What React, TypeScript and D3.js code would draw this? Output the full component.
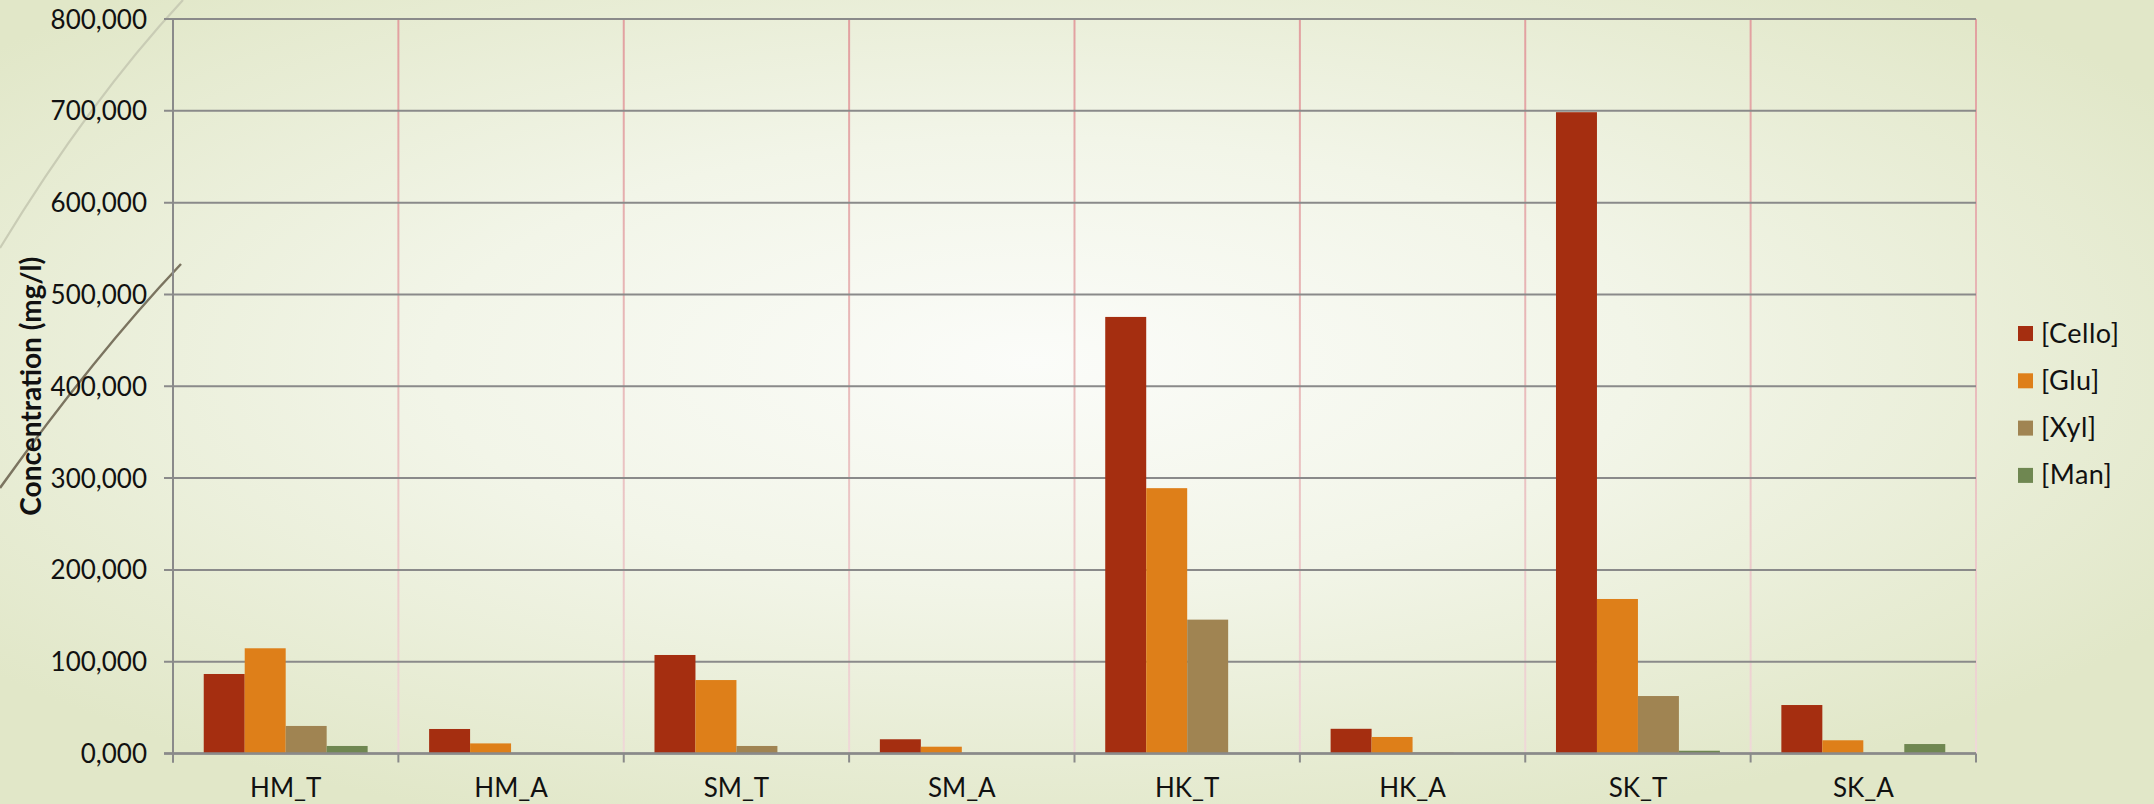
import { useEffect, useRef } from 'react'
import * as d3 from 'd3'

const categories = ['HM_T', 'HM_A', 'SM_T', 'SM_A', 'HK_T', 'HK_A', 'SK_T', 'SK_A']
const seriesNames = ['[Cello]', '[Glu]', '[Xyl]', '[Man]']
const cello = [86600, 26700, 107300, 15500, 475500, 26900, 698500, 52800]
const glu = [114600, 11000, 80000, 7400, 289000, 18000, 168300, 14400]
const xyl = [30000, 0, 8200, 0, 145800, 1000, 62600, 0]
const man = [8200, 0, 0, 0, 0, 0, 3000, 10300]
const yTicks = [0, 100000, 200000, 300000, 400000, 500000, 600000, 700000, 800000]
const yTickLabels = ['0,000', '100,000', '200,000', '300,000', '400,000', '500,000', '600,000', '700,000', '800,000']
const colors = ['#a52e10', '#de7f19', '#a08452', '#6f8751']

export default function App() {
  const ref = useRef<SVGSVGElement>(null)

  useEffect(() => {
    const W = 2154
    const H = 804
    const left = 173
    const right = 1976
    const top = 19
    const bottom = 753.5
    const font = 'Lato, "Open Sans", sans-serif'

    const svg = d3.select(ref.current)
    svg.selectAll('*').remove()

    const defs = svg.append('defs')
    const bg = defs
      .append('radialGradient')
      .attr('id', 'bg')
      .attr('cx', '48%')
      .attr('cy', '45%')
      .attr('r', '62%')
    bg.append('stop').attr('offset', '0').attr('stop-color', '#fbfcf9')
    bg.append('stop').attr('offset', '0.45').attr('stop-color', '#f2f5e8')
    bg.append('stop').attr('offset', '1').attr('stop-color', '#e1e7c8')

    const vgrad = defs
      .append('linearGradient')
      .attr('id', 'vline')
      .attr('gradientUnits', 'userSpaceOnUse')
      .attr('x1', 0)
      .attr('x2', 0)
      .attr('y1', top)
      .attr('y2', bottom)
    vgrad.append('stop').attr('offset', '0').attr('stop-color', '#e2a0a0')
    vgrad.append('stop').attr('offset', '1').attr('stop-color', '#efd8d8')

    svg.append('rect').attr('width', W).attr('height', H).attr('fill', 'url(#bg)')

    // decorative strokes on the left
    svg
      .append('path')
      .attr('d', 'M183,0 Q90,100 0,248')
      .attr('fill', 'none')
      .attr('stroke', '#c9ccb5')
      .attr('stroke-width', 2.2)
    svg
      .append('path')
      .attr('d', 'M181,264 Q95,355 0,488')
      .attr('fill', 'none')
      .attr('stroke', '#7b7460')
      .attr('stroke-width', 2.5)

    const x = d3.scaleBand<string>().domain(categories).range([left, right]).padding(0)
    const bw = x.bandwidth()
    const barW = bw / 5.5
    const xs = d3
      .scaleBand<number>()
      .domain([0, 1, 2, 3])
      .range([barW * 0.75, bw - barW * 0.75])
    const y = d3.scaleLinear().domain([0, 800000]).range([bottom, top])

    // vertical category lines
    const bounds = categories.map((c) => x(c) as number).concat([right])
    svg
      .selectAll('.vl')
      .data(bounds.slice(1))
      .enter()
      .append('line')
      .attr('x1', (d) => d)
      .attr('x2', (d) => d)
      .attr('y1', top)
      .attr('y2', bottom)
      .attr('stroke', 'url(#vline)')
      .attr('stroke-width', 2)

    // horizontal gridlines
    svg
      .selectAll('.hl')
      .data(yTicks)
      .enter()
      .append('line')
      .attr('x1', left - 9)
      .attr('x2', right)
      .attr('y1', (d) => y(d))
      .attr('y2', (d) => y(d))
      .attr('stroke', '#8a8a8a')
      .attr('stroke-width', 2)

    // bars
    const series = [cello, glu, xyl, man]
    series.forEach((vals, si) => {
      svg
        .selectAll('.bar' + si)
        .data(categories)
        .enter()
        .append('rect')
        .attr('x', (c) => (x(c) as number) + (xs(si) as number))
        .attr('width', xs.bandwidth())
        .attr('y', (c, i) => y(vals[i]))
        .attr('height', (c, i) => bottom - y(vals[i]))
        .attr('fill', colors[si])
    })

    // axes lines
    svg
      .append('line')
      .attr('x1', left)
      .attr('x2', left)
      .attr('y1', top)
      .attr('y2', bottom + 9)
      .attr('stroke', '#8a8a8a')
      .attr('stroke-width', 2)
    svg
      .append('line')
      .attr('x1', left - 9)
      .attr('x2', right)
      .attr('y1', bottom)
      .attr('y2', bottom)
      .attr('stroke', '#8a8a8a')
      .attr('stroke-width', 2.5)
    svg
      .selectAll('.xt')
      .data(bounds)
      .enter()
      .append('line')
      .attr('x1', (d) => d)
      .attr('x2', (d) => d)
      .attr('y1', bottom)
      .attr('y2', bottom + 9)
      .attr('stroke', '#8a8a8a')
      .attr('stroke-width', 2)

    // y tick labels
    svg
      .selectAll('.yl')
      .data(yTicks)
      .enter()
      .append('text')
      .attr('x', 147)
      .attr('y', (d) => y(d) + 9.5)
      .attr('text-anchor', 'end')
      .style('font-family', font)
      .style('font-size', '26px')
      .style('fill', '#111')
      .text((d, i) => yTickLabels[i])

    // category labels
    svg
      .selectAll('.cl')
      .data(categories)
      .enter()
      .append('text')
      .attr('x', (c) => (x(c) as number) + bw / 2)
      .attr('y', 797)
      .attr('text-anchor', 'middle')
      .style('font-family', font)
      .style('font-size', '26px')
      .style('fill', '#111')
      .text((c) => c)

    // axis title
    svg
      .append('text')
      .attr('transform', `translate(41,${(top + bottom) / 2}) rotate(-90)`)
      .attr('text-anchor', 'middle')
      .style('font-family', font)
      .style('font-size', '28px')
      .style('font-weight', 700)
      .style('fill', '#111')
      .text('Concentration (mg/l)')

    // legend
    const lg = svg
      .selectAll('.lg')
      .data(seriesNames)
      .enter()
      .append('g')
      .attr('transform', (d, i) => `translate(2018,${326 + i * 47.3})`)
    lg.append('rect')
      .attr('width', 15)
      .attr('height', 15)
      .attr('fill', (d, i) => colors[i])
    lg.append('text')
      .attr('x', 23)
      .attr('y', 16.5)
      .style('font-family', font)
      .style('font-size', '27px')
      .style('letter-spacing', '0.5px')
      .style('fill', '#111')
      .text((d) => d)
  }, [])

  return (
    <svg
      ref={ref}
      width={2154}
      height={804}
      style={{ position: 'absolute', left: 0, top: 0, display: 'block' }}
    />
  )
}
